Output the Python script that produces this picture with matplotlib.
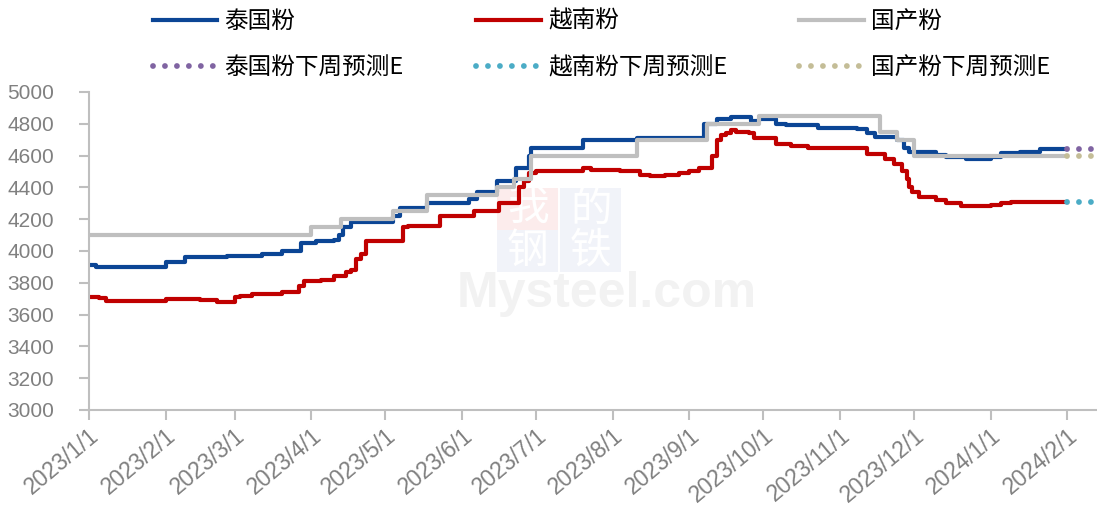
import pandas as pd
import matplotlib
matplotlib.use('Agg')
import matplotlib.pyplot as plt
from matplotlib.patches import Rectangle

plt.rcParams['font.family'] = ['Liberation Sans', 'Noto Sans CJK SC', 'DejaVu Sans']

# 泰国粉
thai_dates = ['2023-01-01', '2023-01-04', '2023-02-01', '2023-02-09', '2023-02-15', '2023-02-26',
              '2023-03-12', '2023-03-20', '2023-03-28', '2023-04-03', '2023-04-10', '2023-04-12',
              '2023-04-14', '2023-04-17', '2023-05-04', '2023-05-07', '2023-05-18', '2023-06-04',
              '2023-06-07', '2023-06-15', '2023-06-23', '2023-06-28', '2023-06-29', '2023-07-20',
              '2023-08-11', '2023-09-07', '2023-09-12', '2023-09-18', '2023-09-26', '2023-09-29',
              '2023-10-06', '2023-10-10', '2023-10-23', '2023-11-08', '2023-11-12', '2023-11-15',
              '2023-11-24', '2023-11-27', '2023-11-29', '2023-12-10', '2023-12-14', '2023-12-22',
              '2024-01-01', '2024-01-05', '2024-01-13', '2024-01-21', '2024-02-01']
thai_vals = [3910, 3900, 3930, 3960, 3965, 3970,
             3980, 4000, 4050, 4060, 4070, 4100,
             4150, 4180, 4220, 4270, 4300, 4330,
             4370, 4440, 4520, 4600, 4650, 4700,
             4710, 4800, 4830, 4845, 4820, 4830,
             4800, 4790, 4775, 4770, 4740, 4715,
             4700, 4650, 4625, 4605, 4590, 4580,
             4590, 4615, 4625, 4640, 4640]

# 越南粉
viet_dates = ['2023-01-01', '2023-01-05', '2023-01-08', '2023-02-01', '2023-02-15', '2023-02-22',
              '2023-03-01', '2023-03-03', '2023-03-08', '2023-03-20', '2023-03-27', '2023-03-29',
              '2023-04-05', '2023-04-10', '2023-04-15', '2023-04-17', '2023-04-19', '2023-04-21',
              '2023-04-23', '2023-05-08', '2023-05-10', '2023-05-23', '2023-06-06', '2023-06-16',
              '2023-06-24', '2023-06-26', '2023-06-28', '2023-07-01', '2023-07-20', '2023-07-23',
              '2023-08-04', '2023-08-12', '2023-08-16', '2023-08-22', '2023-08-28', '2023-09-01',
              '2023-09-05', '2023-09-10', '2023-09-12', '2023-09-14', '2023-09-16', '2023-09-18',
              '2023-09-20', '2023-09-25', '2023-09-27', '2023-10-06', '2023-10-12', '2023-10-19',
              '2023-11-12', '2023-11-19', '2023-11-23', '2023-11-26', '2023-11-28', '2023-11-29',
              '2023-11-30', '2023-12-03', '2023-12-10', '2023-12-14', '2023-12-20', '2024-01-01',
              '2024-01-05', '2024-01-09', '2024-01-21', '2024-02-01']
viet_vals = [3710, 3705, 3685, 3700, 3690, 3680,
             3710, 3720, 3730, 3740, 3780, 3810,
             3820, 3840, 3870, 3880, 3950, 3980,
             4060, 4150, 4160, 4220, 4250, 4300,
             4400, 4440, 4490, 4505, 4520, 4510,
             4500, 4480, 4470, 4480, 4490, 4500,
             4520, 4600, 4700, 4730, 4740, 4760,
             4750, 4740, 4710, 4670, 4660, 4650,
             4610, 4580, 4550, 4500, 4450, 4400,
             4370, 4340, 4320, 4300, 4285, 4290,
             4300, 4305, 4310, 4310]

# 国产粉
dom_dates = ['2023-01-01', '2023-04-01', '2023-04-13', '2023-05-04', '2023-05-18', '2023-06-15',
             '2023-06-22', '2023-06-29', '2023-08-11', '2023-09-08', '2023-09-29', '2023-11-17',
             '2023-11-24', '2023-12-01', '2024-02-01']
dom_vals = [4100, 4150, 4200, 4250, 4350, 4400,
            4450, 4600, 4700, 4800, 4850, 4750,
            4700, 4600, 4600]

# 下周预测E
fc_dates = ['2024-02-01', '2024-02-11']
thai_fc = [4640, 4640]
viet_fc = [4310, 4310]
dom_fc = [4600, 4600]

tick_dates = pd.date_range('2023-01-01', '2024-02-01', freq='MS')

fig = plt.figure(figsize=(10.97, 5.09), dpi=100)
ax = fig.add_axes([0.0811, 0.1945, 0.9189, 0.6248])
ax.set_zorder(1)
ax.patch.set_alpha(0)

lw = 3.0
h1, = ax.plot(pd.to_datetime(thai_dates), thai_vals, drawstyle='steps-post', color='#0b4595', lw=lw, label='泰国粉')
h2, = ax.plot(pd.to_datetime(viet_dates), viet_vals, drawstyle='steps-post', color='#c00000', lw=lw, label='越南粉')
h3, = ax.plot(pd.to_datetime(dom_dates), dom_vals, drawstyle='steps-post', color='#bfbfbf', lw=lw, label='国产粉')

dot = dict(lw=4.2, linestyle=(0, (0.001, 2.05)), dash_capstyle='round', solid_capstyle='round')
f1, = ax.plot(pd.to_datetime(fc_dates), thai_fc, color='#8064a2', label='泰国粉下周预测E', **dot)
f2, = ax.plot(pd.to_datetime(fc_dates), viet_fc, color='#4bacc6', label='越南粉下周预测E', **dot)
f3, = ax.plot(pd.to_datetime(fc_dates), dom_fc, color='#c4bd97', label='国产粉下周预测E', **dot)

ax.set_ylim(3000, 5000)
ax.set_yticks(range(3000, 5001, 200))
ax.set_xlim(pd.Timestamp('2023-01-01'), pd.Timestamp('2024-02-13'))
ax.set_xticks(tick_dates)
ax.set_xticklabels([f'{d.year}/{d.month}/{d.day}' for d in tick_dates],
                   rotation=40, ha='right', rotation_mode='anchor')

for s in ['top', 'right']:
    ax.spines[s].set_visible(False)
for s in ['left', 'bottom']:
    ax.spines[s].set_color('#bfbfbf')
    ax.spines[s].set_linewidth(1.5)
ax.tick_params(axis='both', colors='#bfbfbf', width=1.5, length=7, labelcolor='#808080')
ax.tick_params(axis='y', labelsize=15, pad=18)
ax.tick_params(axis='x', labelsize=16.5, pad=3)

# watermark
wm = [('我', 0.4530, '#fcecec'), ('的', 0.5105, '#f1f3f9'), ('钢', 0.4530, '#f1f3f9'), ('铁', 0.5105, '#f1f3f9')]
for i, (ch, x0, c) in enumerate(wm):
    y0 = 0.548 if i < 2 else 0.466
    fig.patches.append(Rectangle((x0, y0), 0.056, 0.082, transform=fig.transFigure,
                                 facecolor=c, edgecolor='none', zorder=0))
    fig.text(x0 + 0.028, y0 + 0.041, ch, ha='center', va='center', fontsize=30,
             color='white', family=['Noto Sans CJK SC'], zorder=0.2)
fig.text(0.553, 0.422, 'Mysteel.com', ha='center', va='center', fontsize=36,
         fontweight='bold', color='#f2f2f2', zorder=0.1)

fig.legend(handles=[h1, f1, h2, f2, h3, f3], ncol=3, loc='upper left',
           bbox_to_anchor=(0.1197, 1.0224), frameon=False,
           prop={'family': ['Noto Sans CJK SC'], 'size': 17},
           handlelength=2.75, handletextpad=0.3, columnspacing=3.05, labelspacing=1.0)

fig.savefig('out.png', dpi=100)
